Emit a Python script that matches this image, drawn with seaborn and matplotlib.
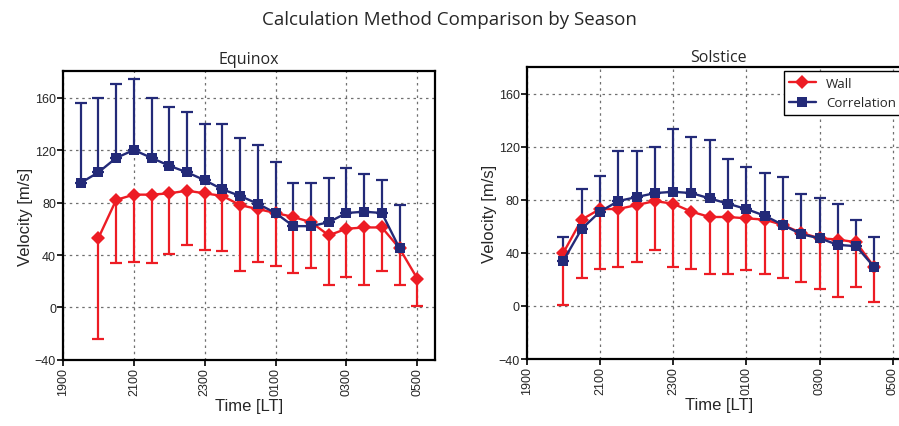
import numpy as np
import pandas as pd
import matplotlib
matplotlib.use("Agg")
import matplotlib.pyplot as plt
import seaborn as sns

# --- data (local time, velocity in m/s) ---
eq_corr_time = ["1930", "2000", "2030", "2100", "2130", "2200", "2230", "2300", "2330", "0000",
                "0030", "0100", "0130", "0200", "0230", "0300", "0330", "0400", "0430"]
eq_corr_vel = [95, 103, 114, 120, 114, 108, 103, 97, 90, 85, 79, 72, 62, 62, 65, 72, 73, 72, 45]
eq_corr_up = [156, 160, 170, 174, 160, 153, 149, 140, 140, 129, 124, 111, 95, 95, 99, 106, 102, 97, 78]

eq_wall_time = ["2000", "2030", "2100", "2130", "2200", "2230", "2300", "2330", "0000", "0030",
                "0100", "0130", "0200", "0230", "0300", "0330", "0400", "0430", "0500"]
eq_wall_vel = [53, 82, 86, 86, 87, 89, 87, 85, 78, 75, 72, 69, 65, 55, 60, 61, 61, 45, 22]
eq_wall_lo = [-24, 34, 35, 34, 41, 48, 44, 43, 28, 35, 32, 26, 30, 17, 23, 17, 28, 17, 1]

so_time = ["2000", "2030", "2100", "2130", "2200", "2230", "2300", "2330", "0000", "0030",
           "0100", "0130", "0200", "0230", "0300", "0330", "0400", "0430"]
so_corr_vel = [34, 58, 71, 79, 82, 85, 86, 85, 81, 77, 73, 68, 61, 54, 51, 46, 45, 29]
so_corr_up = [52, 88, 98, 117, 117, 120, 133, 127, 125, 111, 105, 100, 97, 84, 81, 77, 65, 52]
so_wall_vel = [40, 65, 73, 73, 76, 79, 77, 71, 67, 67, 66, 65, 61, 55, 51, 50, 48, 29]
so_wall_lo = [1, 21, 28, 29, 33, 42, 29, 28, 24, 24, 27, 24, 21, 18, 13, 7, 14, 3]

tick_hours = [19, 21, 23, 25, 27, 29]
tick_labels = ["1900", "2100", "2300", "0100", "0300", "0500"]
y_ticks = [-40, 0, 40, 80, 120, 160]

RED = "#ed1c24"
NAVY = "#232a78"


def to_hours(t):
    h = int(t[:2]) + int(t[2:]) / 60
    if h < 12:
        h += 24
    return h


def make_frame(season, method, times, vel, err):
    return pd.DataFrame({"season": season, "method": method,
                         "hours": [to_hours(t) for t in times],
                         "velocity": vel, "err": err})


df = pd.concat([
    make_frame("Equinox", "Wall", eq_wall_time, eq_wall_vel, eq_wall_lo),
    make_frame("Equinox", "Correlation", eq_corr_time, eq_corr_vel, eq_corr_up),
    make_frame("Solstice", "Wall", so_time, so_wall_vel, so_wall_lo),
    make_frame("Solstice", "Correlation", so_time, so_corr_vel, so_corr_up),
], ignore_index=True)

sns.set_style("ticks")
plt.rcParams["font.family"] = ["Liberation Sans", "DejaVu Sans"]

fig = plt.figure(figsize=(8.99, 4.27), dpi=100)
ax1 = fig.add_axes([0.0701, 0.1546, 0.4138, 0.6761])
# the right panel runs past the figure edge, as in the original
ax2 = fig.add_axes([0.5859, 0.1569, 0.4275, 0.6838])

palette = {"Wall": RED, "Correlation": NAVY}
markers = {"Wall": "D", "Correlation": "s"}

for ax, season, pad in [(ax1, "Equinox", 6), (ax2, "Solstice", 4)]:
    sub = df[df["season"] == season]
    for method in ["Wall", "Correlation"]:
        m = sub[sub["method"] == method]
        # one-sided bars: wall shows the low side, correlation the high side
        if method == "Wall":
            yerr = [m["velocity"] - m["err"], np.zeros(len(m))]
        else:
            yerr = [np.zeros(len(m)), m["err"] - m["velocity"]]
        ax.errorbar(m["hours"], m["velocity"], yerr=yerr, fmt="none",
                    ecolor=palette[method], elinewidth=1.6, capsize=4, capthick=1.6)
    sns.lineplot(data=sub, x="hours", y="velocity", hue="method", style="method",
                 hue_order=["Wall", "Correlation"], style_order=["Wall", "Correlation"],
                 palette=palette, markers=markers, dashes=False, linewidth=1.7,
                 markersize=7, markeredgewidth=0, ax=ax, legend=(season == "Solstice"))

    ax.set_xlim(19, 29.5)
    ax.set_ylim(-40, 180)
    ax.set_xticks(tick_hours)
    ax.set_xticklabels(tick_labels, rotation=90)
    ax.set_yticks(y_ticks)
    ax.tick_params(axis="both", labelsize=9, direction="out", length=4, width=1.2, color="black", pad=1)
    ax.grid(True, color="#707070", linestyle=(0, (2, 3)), linewidth=0.9)
    for sp in ax.spines.values():
        sp.set_linewidth(1.6)
        sp.set_color("black")
    ax.set_xlabel("Time [LT]", fontsize=12, labelpad=2)
    ax.set_ylabel("Velocity [m/s]", fontsize=12, labelpad=1)
    ax.set_title(season, fontsize=11.5, family="Open Sans", pad=pad)

sns.move_legend(ax2, "upper right", bbox_to_anchor=(0.975, 0.985), title=None,
                frameon=True, fancybox=False, edgecolor="black", framealpha=1,
                borderaxespad=0, prop={"family": "Open Sans", "size": 9.5})
ax2.get_legend().get_frame().set_linewidth(1.0)

fig.suptitle("Calculation Method Comparison by Season", fontsize=13.5, family="Open Sans", y=0.975)

fig.savefig("out.png", dpi=100)
